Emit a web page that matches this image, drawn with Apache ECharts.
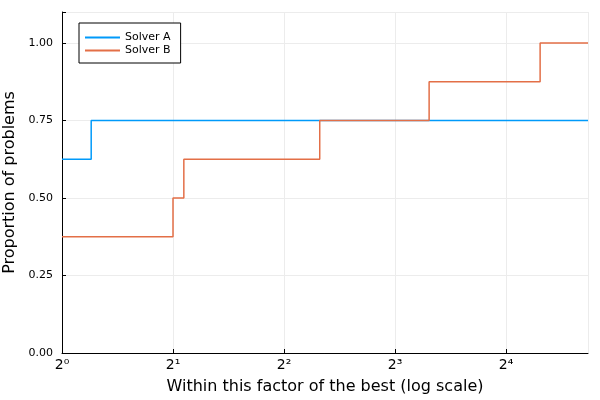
<!DOCTYPE html>
<html><head><meta charset="utf-8">
<script src="https://cdn.jsdelivr.net/npm/echarts@6/dist/echarts.min.js"></script>
<style>html,body{margin:0;padding:0;background:#fff}#c{width:600px;height:400px}</style>
</head><body><div id="c"></div>
<script>
// Ratios (within factor of best) where each profile steps, and the proportion held from there
const seriesNames = ["Solver A", "Solver B"];
const ratiosA = [1, 1.2, 26.7];
const valuesA = [0.625, 0.75, 0.75];
const ratiosB = [1, 2, 2.14, 5, 9.9, 19.8, 26.7];
const valuesB = [0.375, 0.5, 0.625, 0.75, 0.875, 1.0, 1.0];
const xTickLabels = ["2⁰", "2¹", "2²", "2³", "2⁴"];
const yTicks = [0, 0.25, 0.5, 0.75, 1.0];

const toPts = (r, v) => r.map((x, i) => [Math.log2(x), v[i]]);
const font = "DejaVu Sans";
const chart = echarts.init(document.getElementById('c'), null, {renderer: 'canvas'});
chart.setOption({
  animation: false,
  textStyle: {fontFamily: font},
  grid: {left: 62, right: 12, top: 12, bottom: 47, containLabel: false, outerBoundsMode: 'none'},
  legend: {
    orient: 'vertical', left: 79, top: 23, padding: [9, 10, 7, 6],
    borderColor: '#000', borderWidth: 1, backgroundColor: '#fff', borderRadius: 0,
    itemWidth: 35, itemHeight: 2, itemGap: 2,
    textStyle: {fontFamily: font, fontSize: 11, color: '#000'},
    data: seriesNames.map(n => ({name: n, icon: 'rect'}))
  },
  xAxis: {
    type: 'value', min: 0, max: Math.log2(26.7), interval: 1,
    name: 'Within this factor of the best (log scale)', nameLocation: 'middle', nameGap: 26,
    nameTextStyle: {fontFamily: font, fontSize: 16, color: '#000'},
    axisLine: {show: true, lineStyle: {color: '#000', width: 1}},
    axisTick: {show: true, inside: true, length: 4, lineStyle: {color: '#000'}},
    axisLabel: {fontFamily: font, fontSize: 14, color: '#000', margin: 5, showMaxLabel: false,
      formatter: v => { const i = Math.round(v); return (Math.abs(v - i) < 1e-6 && xTickLabels[i]) ? xTickLabels[i] : ''; }},
    splitLine: {show: true, lineStyle: {color: '#ececec', width: 1}}
  },
  yAxis: {
    type: 'value', min: 0, max: 1.1, interval: 0.25,
    name: 'Proportion of problems', nameLocation: 'middle', nameGap: 44,
    nameTextStyle: {fontFamily: font, fontSize: 16, color: '#000'},
    axisLine: {show: true, lineStyle: {color: '#000', width: 1}},
    axisTick: {show: true, inside: true, length: 4, lineStyle: {color: '#000'}},
    axisLabel: {fontFamily: font, fontSize: 11, color: '#000', margin: 9,
      formatter: v => yTicks.some(t => Math.abs(t - v) < 1e-9) ? v.toFixed(2) : ''},
    splitLine: {show: true, lineStyle: {color: '#ececec', width: 1}}
  },
  series: [
    {name: seriesNames[0], type: 'line', step: 'end', symbol: 'none', data: toPts(ratiosA, valuesA),
     lineStyle: {color: '#009AFA', width: 1.5}, itemStyle: {color: '#009AFA'}},
    {name: seriesNames[1], type: 'line', step: 'end', symbol: 'none', data: toPts(ratiosB, valuesB),
     lineStyle: {color: '#E36F47', width: 1.5}, itemStyle: {color: '#E36F47'}}
  ]
});
</script></body></html>
